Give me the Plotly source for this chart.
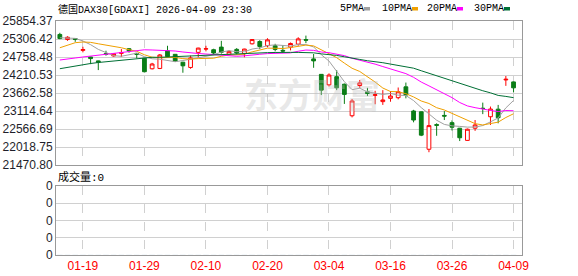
import plotly.graph_objects as go

# ---------------- data ----------------
dates = ["2026-01-14","2026-01-15","2026-01-16","2026-01-19","2026-01-20","2026-01-21","2026-01-22","2026-01-23",
         "2026-01-26","2026-01-27","2026-01-28","2026-01-29","2026-01-30",
         "2026-02-02","2026-02-03","2026-02-04","2026-02-05","2026-02-06","2026-02-09","2026-02-10","2026-02-11",
         "2026-02-12","2026-02-13","2026-02-16","2026-02-17","2026-02-18","2026-02-19","2026-02-20","2026-02-23",
         "2026-02-24","2026-02-25","2026-02-26","2026-02-27",
         "2026-03-02","2026-03-03","2026-03-04","2026-03-05","2026-03-06","2026-03-09","2026-03-10","2026-03-11",
         "2026-03-12","2026-03-13","2026-03-16","2026-03-17","2026-03-18","2026-03-19","2026-03-20","2026-03-23",
         "2026-03-24","2026-03-25","2026-03-26","2026-03-27","2026-03-30","2026-03-31",
         "2026-04-01","2026-04-02","2026-04-07","2026-04-08","2026-04-09"]

opens  = [25445,25290,25320,24960,24760,24640,24860,24790,24870,25010,24870,24720,24400,24410,24950,24840,24600,24440,24900,25000,
          24980,25060,24840,24990,24860,25160,25230,25100,25100,24960,25060,25150,25290,24700,24230,23910,24160,23930,22970,23890,
          23700,23590,23400,23500,23520,23850,23115,23090,21950,22700,22980,22760,22590,22220,22590,23200,22940,23170,24060,24000]
highs  = [25495,25390,25330,25070,24770,24650,24950,24880,25000,25030,24880,24730,24580,24850,25100,24850,24610,24800,25040,25100,
          25010,25250,24960,25030,25010,25300,25270,25330,25160,25120,25200,25360,25410,24850,24240,24260,24360,23950,23480,24060,
          23820,23730,23750,23720,23830,23980,23150,23100,23175,22740,23110,22830,22600,22580,22840,23370,23250,23300,24180,24010]
lows   = [25300,25250,25220,24900,24540,24360,24800,24770,24760,24890,24720,24290,24380,24390,24760,24620,24280,24400,24740,24930,
          24850,24860,24820,24830,24750,25140,25000,25060,24930,24880,24960,25100,25180,24430,23600,23860,23750,23330,22920,23810,
          23570,23320,23300,23400,23470,23500,22770,22350,21860,22360,22840,22520,22200,22210,22510,23020,22690,22740,23880,23680]
closes = [25320,25360,25295,24985,24710,24600,24840,24860,24890,24940,24840,24310,24545,24820,24770,24630,24490,24730,25030,25010,
          24880,24900,24930,24880,25000,25290,25080,25280,24990,24940,25170,25310,25270,24640,23750,24210,23820,23620,23420,23970,
          23650,23610,23450,23570,23700,23600,22840,22380,22670,22680,22960,22620,22300,22560,22690,23190,23175,22910,24080,23820]
volumes = [0] * len(dates)

# moving-average values before a full window is on screen
ma5_head = [25345, 25345, 25325, 25245]
ma10_head = [25040, 25123, 25194, 25215, 25204, 25161, 25123, 25093, 25040]
ma20_head = [24667, 24707, 24728, 24759, 24789, 24819, 24850, 24880, 24911, 24941, 24962, 24978, 24972,
             24965, 24956, 24941, 24911, 24880, 24865]
ma30_head = [24402, 24445, 24485, 24536, 24561, 24591, 24615, 24637, 24658, 24676, 24698, 24719, 24749,
             24749, 24759, 24774, 24789, 24804, 24819, 24819, 24829, 24835, 24841, 24865, 24871, 24880,
             24886, 24892, 24896]

tick_labels = ["01-19", "01-29", "02-10", "02-20", "03-04", "03-16", "03-26", "04-09"]
price_ticks = [21470.80, 22018.75, 22566.69, 23114.64, 23662.58, 24210.53, 24758.48, 25306.42, 25854.37]
title_text = "德国DAX30[GDAXI] 2026-04-09 23:30"
ma_names = ["5PMA", "10PMA", "20PMA", "30PMA"]


def moving_avg(vals, n, head):
    out = list(head)
    for i in range(n - 1, len(vals)):
        out.append(sum(vals[i - n + 1:i + 1]) / n)
    return out


ma_series = [moving_avg(closes, 5, ma5_head), moving_avg(closes, 10, ma10_head),
             moving_avg(closes, 20, ma20_head), moving_avg(closes, 30, ma30_head)]
ma_colors = ["#a0a0a0", "#f0a000", "#ff00ff", "#006f35"]

xi = list(range(len(dates)))
md = [d[5:] for d in dates]
tickvals = [md.index(t) for t in tick_labels]

RED = "#ff0000"
GREEN = "#0a7d16"
GRID = "#d0d0d0"
FRAME = "#999999"

fig = go.Figure()
fig.add_trace(go.Candlestick(
    x=xi, open=opens, high=highs, low=lows, close=closes,
    xaxis="x2", yaxis="y",
    increasing=dict(line=dict(color=RED, width=1), fillcolor="#ffffff"),
    decreasing=dict(line=dict(color=GREEN, width=1), fillcolor=GREEN),
    whiskerwidth=0, showlegend=False, hoverinfo="skip"))
for vals, col, nm in zip(ma_series, ma_colors, ma_names):
    fig.add_trace(go.Scatter(x=xi, y=vals, mode="lines", line=dict(color=col, width=1),
                             xaxis="x2", yaxis="y", name=nm, showlegend=False, hoverinfo="skip"))
fig.add_trace(go.Bar(x=xi, y=volumes, xaxis="x", yaxis="y2", marker_color=GREEN,
                     showlegend=False, hoverinfo="skip"))

W, H = 578, 276
L, R, T, B = 56, 56, 21, 21
ph = H - T - B
main_dom = [(H - B - 165) / ph, 1.0]
vol_dom = [0.0, (H - B - 186) / ph]
xr = [-0.5, 60.1]

axis_font = dict(family="Liberation Sans, Arial", size=12, color="#1e1e2a")

fig.update_layout(
    width=W, height=H, margin=dict(l=L, r=R, t=T, b=B),
    paper_bgcolor="#ffffff", plot_bgcolor="#ffffff",
    boxgap=0.3, bargap=0.3,
    xaxis=dict(domain=[0, 1], anchor="y2", range=xr, tickmode="array", tickvals=tickvals,
               ticktext=tick_labels, tickfont=dict(family="Liberation Sans, Arial", size=12, color=RED),
               showgrid=True, gridcolor=GRID, griddash="dash", gridwidth=1,
               showline=True, linecolor=FRAME, linewidth=1, mirror=True, ticks="",
               zeroline=False, rangeslider=dict(visible=False), fixedrange=True, automargin=False),
    xaxis2=dict(domain=[0, 1], anchor="y", matches="x", range=xr, tickmode="array", tickvals=tickvals,
                showticklabels=False, showgrid=True, gridcolor=GRID, griddash="dash", gridwidth=1,
                showline=True, linecolor=FRAME, linewidth=1, mirror=True, ticks="",
                zeroline=False, rangeslider=dict(visible=False), automargin=False),
    yaxis=dict(domain=main_dom, anchor="x2", range=[price_ticks[0], price_ticks[-1]],
               tickmode="array", tickvals=price_ticks, ticktext=["%.2f" % v for v in price_ticks],
               tickfont=axis_font, showgrid=True, gridcolor=GRID, gridwidth=1,
               showline=True, linecolor=FRAME, linewidth=1, mirror=True, ticks="",
               zeroline=False, automargin=False),
    yaxis2=dict(domain=vol_dom, anchor="x", range=[0, 1], tickmode="array",
                tickvals=[0, 0.25, 0.5, 0.75, 1], ticktext=["0"] * 5, tickfont=axis_font,
                showgrid=True, gridcolor=GRID, gridwidth=1,
                showline=True, linecolor=FRAME, linewidth=1, mirror=True, ticks="",
                zeroline=False, automargin=False),
    showlegend=False,
)

mono = "Liberation Mono, DejaVu Sans Mono, Noto Sans CJK SC"
# title
fig.add_annotation(text=title_text, xref="paper", yref="paper", x=0, y=1 + (T - 10) / ph,
                   xanchor="left", yanchor="middle", showarrow=False,
                   font=dict(family=mono, size=10, color="#000000"))
# volume label
fig.add_annotation(text="成交量:0", xref="paper", yref="paper", x=0,
                   y=(H - B - 177) / ph, xanchor="left", yanchor="middle", showarrow=False,
                   font=dict(family=mono, size=11, color="#000000"))
# watermark
fig.add_annotation(text="<b>东方财富</b>", xref="paper", yref="paper",
                   x=(312 - L) / (W - L - R), y=(H - B - 93) / ph, xanchor="center", yanchor="middle",
                   showarrow=False, font=dict(family="Noto Sans CJK SC", size=34, color="rgba(190,190,190,0.35)"))

# legend: text followed by small colour block
leg_x = [338, 380, 425, 472]
for nm, col, lx in zip(ma_names, ma_colors, leg_x):
    fig.add_annotation(text=nm, xref="paper", yref="paper", x=(lx - L) / (W - L - R),
                       y=1 + (T - 9) / ph, xanchor="left", yanchor="middle", showarrow=False,
                       font=dict(family=mono, size=10, color="#000000"))
    tw = 6 * len(nm)
    x0 = lx + tw + 2
    fig.add_shape(type="rect", xref="paper", yref="paper",
                  x0=(x0 - L) / (W - L - R), x1=(x0 + 6 - L) / (W - L - R),
                  y0=1 + (T - 10.5) / ph, y1=1 + (T - 7) / ph,
                  line=dict(width=0), fillcolor=col)

fig.write_html("out.html", config={"displayModeBar": False, "staticPlot": True})
